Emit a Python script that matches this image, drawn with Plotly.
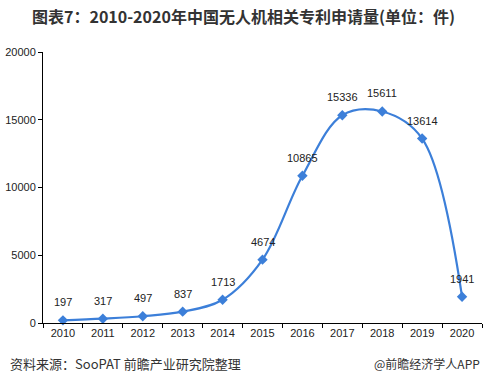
import plotly.graph_objects as go

years = ["2010", "2011", "2012", "2013", "2014", "2015", "2016", "2017", "2018", "2019", "2020"]
counts = [197, 317, 497, 837, 1713, 4674, 10865, 15336, 15611, 13614, 1941]
y_ticks = [0, 5000, 10000, 15000, 20000]

fig = go.Figure()
fig.add_trace(go.Scatter(
    x=years, y=counts, mode="lines+markers",
    line=dict(color="#3C7FD9", width=2.2, shape="spline", smoothing=1.0),
    marker=dict(symbol="diamond", size=8, color="#3C7FD9"),
    cliponaxis=False, showlegend=False, hoverinfo="x+y",
))

label_font = dict(family="Liberation Sans, Arial, sans-serif", size=11, color="#222")
annotations = [
    dict(x=i, y=v, xref="x", yref="y", text=str(v), showarrow=False,
         yshift=18, font=label_font)
    for i, v in enumerate(counts)
]
annotations += [
    dict(text="资料来源：SooPAT 前瞻产业研究院整理", x=-0.08, y=-0.148, xref="paper", yref="paper",
         xanchor="left", yanchor="middle", showarrow=False,
         font=dict(family="Noto Sans CJK SC, sans-serif", size=13, color="#333")),
    dict(text="@前瞻经济学人APP", x=1.0, y=-0.148, xref="paper", yref="paper",
         xanchor="right", yanchor="middle", showarrow=False,
         font=dict(family="Noto Sans CJK SC, sans-serif", size=12, color="#333")),
]

fig.update_layout(
    width=487, height=384,
    margin=dict(l=43, r=5, t=52, b=61),
    paper_bgcolor="white", plot_bgcolor="white",
    title=dict(text="<b>图表7：2010-2020年中国无人机相关专利申请量(单位：件)</b>",
               x=0.5, xanchor="center", y=0.955, yanchor="middle",
               font=dict(family="Noto Sans CJK SC, sans-serif", size=16, color="#333")),
    xaxis=dict(type="category", categoryorder="array", categoryarray=years,
               range=[-0.5, len(years) - 0.5],
               showline=True, linecolor="black", linewidth=1,
               ticks="outside", tickson="boundaries", ticklen=4, tickcolor="black",
               showgrid=False, tickfont=label_font, tickangle=0),
    yaxis=dict(range=[0, 20000], tickvals=y_ticks, tickformat="d", showline=True,
               linecolor="black", linewidth=1,
               ticks="outside", ticklen=4, tickcolor="black", showgrid=False, zeroline=False,
               tickfont=label_font),
    annotations=annotations,
)
fig.write_html("out.html", config={"displayModeBar": False},
               post_script="document.body.style.margin='0';")
